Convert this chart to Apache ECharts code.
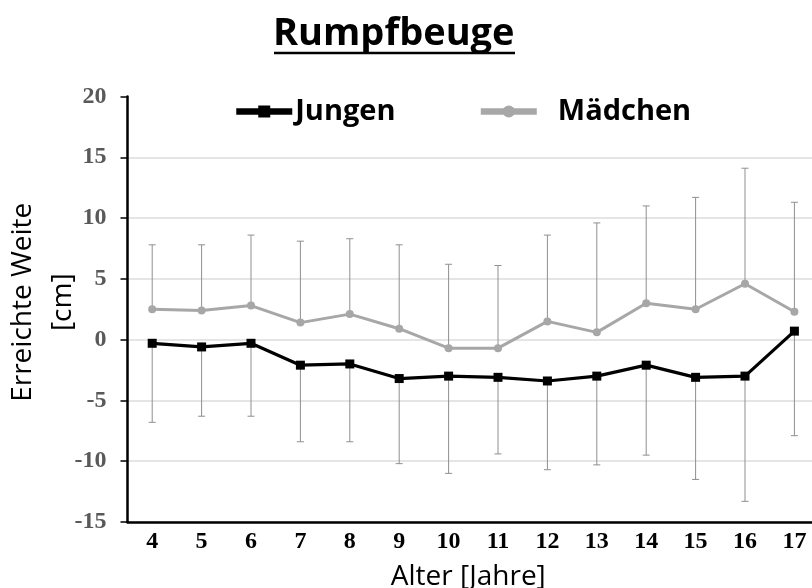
<!DOCTYPE html>
<html>
<head>
<meta charset="utf-8">
<script src="https://cdn.jsdelivr.net/npm/echarts@6/dist/echarts.min.js"></script>
<style>
  html, body { margin: 0; padding: 0; background: #fff; }
  #chart { width: 812px; height: 588px; }
</style>
</head>
<body>
<div id="chart"></div>
<script>
// Alter in Jahren
const ages = ['4', '5', '6', '7', '8', '9', '10', '11', '12', '13', '14', '15', '16', '17'];

// Rumpfbeuge: Mittelwerte und Standardabweichungen [cm]
const jungenMean = [-0.3, -0.6, -0.3, -2.1, -2.0, -3.2, -3.0, -3.1, -3.4, -3.0, -2.1, -3.1, -3.0, 0.7];
const jungenSD   = [6.5, 5.7, 6.0, 6.3, 6.4, 7.0, 8.0, 6.3, 7.3, 7.3, 7.4, 8.4, 10.3, 8.6];
const maedchenMean = [2.5, 2.4, 2.8, 1.4, 2.1, 0.9, -0.7, -0.7, 1.5, 0.6, 3.0, 2.5, 4.6, 2.3];
const maedchenSD   = [5.3, 5.4, 5.8, 6.7, 6.2, 6.9, 6.9, 6.8, 7.1, 9.0, 8.0, 9.2, 9.5, 9.0];

// y-axis ticks
const yMin = -15, yMax = 20, yStep = 5;

const SANS = '"Open Sans", Lato, sans-serif';
const SERIF = '"Liberation Serif", "DejaVu Serif", serif';
const BLACK = '#000000';
const GREY = '#a8a6a6';
const BAR = '#8f8f8f';

// Jungen: Fehlerbalken nach unten, Mädchen: nach oben
const jungenErr = ages.map((a, i) => [i, jungenMean[i], jungenMean[i] - jungenSD[i]]);
const maedchenErr = ages.map((a, i) => [i, maedchenMean[i], maedchenMean[i] + maedchenSD[i]]);

function errorBar(params, api) {
  const p0 = api.coord([api.value(0), api.value(1)]);
  const p1 = api.coord([api.value(0), api.value(2)]);
  const cap = 3.5;
  const style = { stroke: BAR, lineWidth: 1 };
  return {
    type: 'group',
    children: [
      { type: 'line', shape: { x1: p0[0], y1: p0[1], x2: p1[0], y2: p1[1] }, style },
      { type: 'line', shape: { x1: p1[0] - cap, y1: p1[1], x2: p1[0] + cap, y2: p1[1] }, style }
    ]
  };
}

const chart = echarts.init(document.getElementById('chart'), null, { renderer: 'canvas' });

const legendText = { fontFamily: SANS, fontWeight: 'bold', fontSize: 29, color: '#000' };

chart.setOption({
  animation: false,
  backgroundColor: '#ffffff',
  title: {
    text: 'Rumpfbeuge',
    left: 273,
    top: 15,
    padding: 0,
    textStyle: { fontFamily: SANS, fontWeight: 'bold', fontSize: 38, color: '#000' }
  },
  graphic: [
    { type: 'line', shape: { x1: 274, y1: 53, x2: 515, y2: 53 }, style: { stroke: '#000', lineWidth: 2.5 } }
  ],
  legend: {
    left: 233,
    top: 97,
    padding: 0,
    itemWidth: 56,
    itemHeight: 15,
    itemGap: 82,
    data: ['Jungen', 'Mädchen'],
    lineStyle: { width: 6.5 },
    formatter: name => name === 'Mädchen' ? '{m|' + name + '}' : '{j|' + name + '}',
    textStyle: Object.assign({}, legendText, {
      rich: {
        j: Object.assign({}, legendText, { padding: [0, 0, 0, -2] }),
        m: Object.assign({}, legendText, { padding: [0, 0, 0, 16] })
      }
    })
  },
  grid: {
    left: 127.5, top: 96.5, width: 691.6, height: 425.5,
    containLabel: false, outerBoundsMode: 'none'
  },
  xAxis: {
    type: 'category',
    data: ages,
    boundaryGap: true,
    name: 'Alter [Jahre]',
    nameLocation: 'middle',
    nameGap: 41,
    nameMoveOverlap: false,
    nameTextStyle: { fontFamily: SANS, fontSize: 28, color: '#000', padding: [0, 10, 0, 0] },
    axisLine: { onZero: false, lineStyle: { color: '#000', width: 2.5 } },
    axisTick: { show: false },
    axisLabel: { fontFamily: SERIF, fontWeight: 'bold', fontSize: 24, color: '#000', margin: 8 },
    splitLine: { show: false }
  },
  yAxis: {
    type: 'value',
    min: yMin,
    max: yMax,
    interval: yStep,
    name: 'Erreichte Weite\n[cm]',
    nameLocation: 'middle',
    nameRotate: 90,
    nameGap: 44,
    nameMoveOverlap: false,
    nameTextStyle: { fontFamily: SANS, fontSize: 28, color: '#000', lineHeight: 40, padding: [0, 0, 0, 14] },
    axisLine: { show: true, onZero: false, lineStyle: { color: '#000', width: 2.5 } },
    axisTick: { show: true, inside: false, length: 7, lineStyle: { color: '#000', width: 1.5 } },
    axisLabel: { fontFamily: SERIF, fontWeight: 'bold', fontSize: 24, color: '#595959', margin: 21 },
    splitLine: { show: true, showMaxLine: false, lineStyle: { color: '#dcdcdc', width: 1.5 } }
  },
  series: [
    {
      name: 'JungenSD',
      type: 'custom',
      renderItem: errorBar,
      data: jungenErr,
      encode: { x: 0, y: [1, 2] },
      z: 1,
      silent: true
    },
    {
      name: 'MädchenSD',
      type: 'custom',
      renderItem: errorBar,
      data: maedchenErr,
      encode: { x: 0, y: [1, 2] },
      z: 1,
      silent: true
    },
    {
      name: 'Mädchen',
      type: 'line',
      data: maedchenMean,
      symbol: 'circle',
      symbolSize: 8,
      lineStyle: { color: GREY, width: 3 },
      itemStyle: { color: GREY },
      z: 3
    },
    {
      name: 'Jungen',
      type: 'line',
      data: jungenMean,
      symbol: 'rect',
      symbolSize: 9,
      lineStyle: { color: BLACK, width: 3.2 },
      itemStyle: { color: BLACK },
      z: 4
    }
  ]
});
</script>
</body>
</html>
